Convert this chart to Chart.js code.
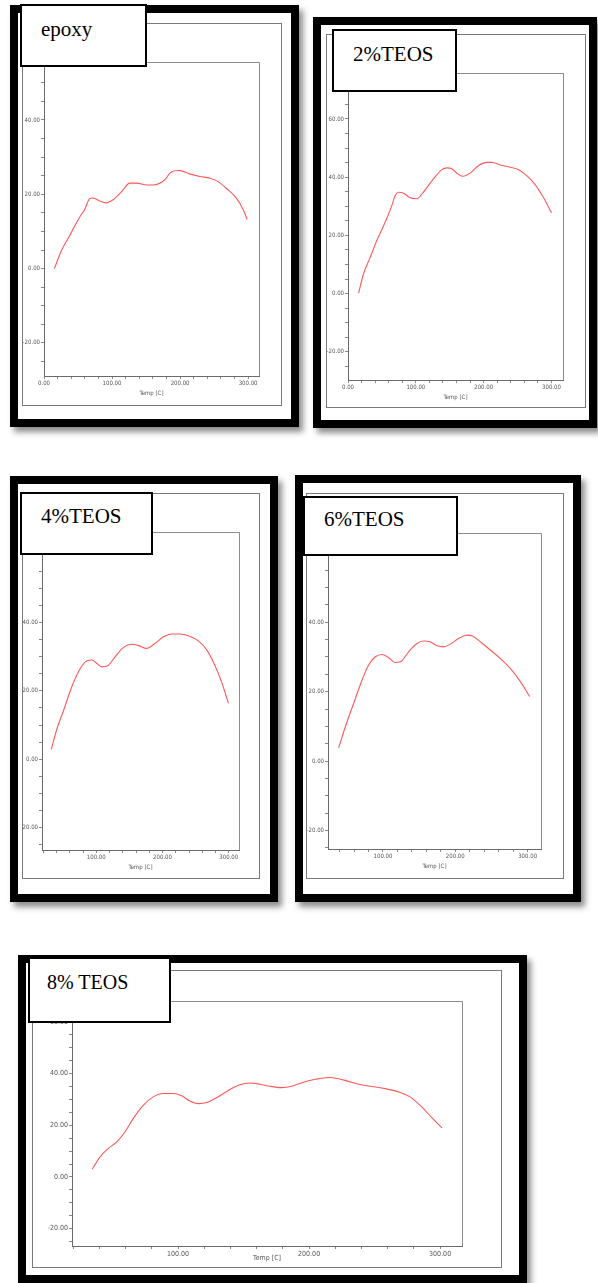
<!DOCTYPE html>
<html>
<head>
<meta charset="utf-8">
<script src="https://cdn.jsdelivr.net/npm/chart.js@4/dist/chart.umd.min.js"></script>
<style>
  html, body { margin: 0; padding: 0; background: #fff; }
  body { position: relative; width: 598px; height: 1283px; overflow: hidden; }
  .frame { position: absolute; box-sizing: border-box; border: 8px solid #000; background: #fff;
           box-shadow: 4px 5px 6px rgba(0,0,0,0.45); }
  .inner { position: absolute; box-sizing: border-box; border: 1px solid #7a7a7a; background: #fff; }
  canvas { position: absolute; }
  .tag { position: absolute; box-sizing: border-box; border: 2px solid #000; background: #fff; }
  .tag span { position: absolute; font-family: "Liberation Serif", "Times New Roman", serif;
              line-height: 1; white-space: pre; color: #000; }
</style>
</head>
<body>
<script>
// Storage modulus-type curves versus temperature for each formulation
const epoxyTemp  = [15.2, 26, 38, 53, 60, 66.6, 72, 82, 91, 102, 114, 126, 136, 151, 160.5, 170, 178.6, 185, 197, 202, 214, 229, 244, 256, 268, 283, 293, 298.6];
const epoxyValue = [0, 5, 9, 14, 16, 18.7, 19, 18.2, 17.7, 18.6, 20.7, 23, 23, 22.5, 22.5, 23, 24.1, 25.7, 26.4, 26.3, 25.5, 24.8, 24.3, 23.4, 21.6, 18.9, 15.8, 13.2];

const teos2Temp  = [15.7, 23, 33, 42.6, 57, 64.7, 69.6, 74.5, 82, 91.7, 101.5, 111, 126, 138, 145.6, 153, 160, 169, 180, 192.6, 205, 212, 224.5, 239, 251, 263, 273, 288, 300];
const teos2Value = [0.2, 6.9, 12.6, 18.3, 25.7, 30.3, 33.7, 34.8, 34.5, 32.9, 32.6, 34.8, 39.4, 42.5, 43.2, 42.9, 41.5, 40.3, 41.4, 44, 45.1, 45.1, 44.2, 43.4, 42.6, 40.6, 38.3, 33.1, 27.8];

const teos4Temp  = [32, 40.7, 50.8, 63, 76, 86, 93.5, 101, 108.5, 117, 128.6, 141, 154, 164, 176, 189, 201.5, 214, 226.6, 239, 254, 267, 279, 289, 299.5];
const teos4Value = [2.9, 9, 14.4, 21.2, 26.6, 28.8, 29, 28, 27, 27.3, 30, 32.7, 33.6, 33.2, 32.4, 33.9, 35.8, 36.6, 36.6, 36.1, 34.6, 31.9, 27.5, 22.7, 16.4];

const teos6Temp  = [38.7, 48, 59.4, 71, 80, 89, 98.6, 107.8, 117, 124, 135.5, 147, 156, 165, 174.7, 184, 193, 204.6, 216, 223, 234.6, 248.4, 262, 276, 290, 302.8];
const teos6Value = [3.8, 9.9, 16.6, 23.3, 27.6, 30, 30.7, 29.8, 28.4, 28.6, 31.5, 33.9, 34.6, 34.4, 33.2, 32.9, 33.7, 35.3, 36.3, 36.1, 34.4, 32, 29.6, 26.7, 22.9, 18.6];

const teos8Temp  = [34.4, 40.3, 46.6, 53, 59.4, 65.7, 73.4, 81, 88.7, 96.3, 102.7, 109, 115.4, 121.8, 129.4, 138.3, 146, 155, 162.5, 170, 179, 186.7, 194.4, 204.6, 214.8, 222.4, 230, 237.7, 247.9, 258, 268.3, 277, 286, 293.6, 301.4];
const teos8Value = [3, 7.7, 11, 13.5, 17.4, 22.6, 27.7, 31, 32.3, 32.3, 31.4, 29.4, 28.4, 28.8, 30.7, 33.5, 35.5, 36.4, 35.9, 35.1, 34.6, 35.1, 36.5, 37.8, 38.5, 38, 37, 35.9, 35, 34.2, 32.9, 31, 27.1, 23, 19];

// Labelled tick values on each axis
const xMajorTicks = [0, 100, 200, 300];
const yMajorTicks = [-20, 0, 20, 40, 60];
const xMinorStep = 20;
const yMinorStep = 5;

const panelNames = ['epoxy', '2%TEOS', '4%TEOS', '6%TEOS', '8% TEOS'];

// Page layout of every panel: frame, inner box, plot area, name box (pixels)
const panels = [
  { name: panelNames[0], temp: epoxyTemp, value: epoxyValue, x: [0, 316], y: [-28.9, 55.6],
    frame: [10, 5, 289, 422], inner: [22, 23, 260, 383], plot: [44, 62, 259, 376], titleBottom: 397,
    tag: [20, 4, 127, 63], textLeft: 21, baseline: 32.5, textSize: 21, tickSize: 6 },
  { name: panelNames[1], temp: teos2Temp, value: teos2Value, x: [0, 317], y: [-29.7, 75.8],
    frame: [313, 17, 284, 411], inner: [326, 34, 260, 374], plot: [348, 73, 563, 380], titleBottom: 401,
    tag: [332, 29, 125, 63], textLeft: 21, baseline: 32.5, textSize: 21, tickSize: 6 },
  { name: panelNames[2], temp: teos4Temp, value: teos4Value, x: [18, 315.5], y: [-26.5, 66.4],
    frame: [10, 476, 268, 426], inner: [22, 493, 238, 386], plot: [42, 532, 239, 850], titleBottom: 871,
    tag: [20, 492, 133, 63], textLeft: 21, baseline: 31.5, textSize: 21, tickSize: 6 },
  { name: panelNames[3], temp: teos6Temp, value: teos6Value, x: [24, 318.5], y: [-25.3, 65.7],
    frame: [295, 475, 286, 427], inner: [306, 493, 258, 386], plot: [328, 533, 541, 849], titleBottom: 870,
    tag: [303, 496, 155, 60], textLeft: 21, baseline: 30.5, textSize: 21, tickSize: 6 },
  { name: panelNames[4], temp: teos8Temp, value: teos8Value, x: [19, 316.7], y: [-26.7, 68.1],
    frame: [18, 955, 509, 328], inner: [32, 970, 470, 298], plot: [72, 1001, 462, 1246], titleBottom: 1262,
    tag: [28, 957, 143, 66], textLeft: 19, baseline: 31.5, textSize: 20, tickSize: 7 }
];

const TICK_FONT = "'Liberation Sans Narrow', 'DejaVu Sans Condensed', 'Liberation Sans', sans-serif";

function stepTicks(min, max, step) {
  const out = [];
  for (let v = Math.ceil(min / step) * step; v <= max + 1e-9; v += step) out.push({ value: Math.round(v * 1000) / 1000 });
  return out;
}

// Thin grey box along the top and right edges of the plotting area
const plotFrame = {
  id: 'plotFrame',
  beforeDatasetsDraw(chart) {
    const { ctx, chartArea: a } = chart;
    ctx.save();
    ctx.strokeStyle = '#8c8c8c';
    ctx.lineWidth = 1;
    ctx.beginPath();
    ctx.moveTo(a.left, Math.round(a.top) + 0.5);
    ctx.lineTo(Math.round(a.right) + 0.5, Math.round(a.top) + 0.5);
    ctx.lineTo(Math.round(a.right) + 0.5, a.bottom);
    ctx.stroke();
    ctx.restore();
  }
};

function box(cls, r) {
  const d = document.createElement('div');
  d.className = cls;
  d.style.left = r[0] + 'px';
  d.style.top = r[1] + 'px';
  d.style.width = r[2] + 'px';
  d.style.height = r[3] + 'px';
  document.body.appendChild(d);
  return d;
}

panels.forEach(p => {
  box('frame', p.frame);
  box('inner', p.inner);

  const cl = p.inner[0] + 1, ct = p.inner[1] + 1;
  const cw = p.inner[2] - 2, ch = p.inner[3] - 2;
  const cr = cl + cw, cb = ct + ch;
  const [pl, pt, pr, pb] = p.plot;

  const canvas = document.createElement('canvas');
  canvas.width = cw; canvas.height = ch;
  canvas.style.left = cl + 'px'; canvas.style.top = ct + 'px';
  canvas.style.width = cw + 'px'; canvas.style.height = ch + 'px';
  document.body.appendChild(canvas);

  const yWidth = pl - cl;
  const xHeight = p.titleBottom - pb;
  const tickFont = { family: TICK_FONT, size: p.tickSize };

  new Chart(canvas, {
    type: 'scatter',
    data: {
      datasets: [{
        data: p.temp.map((t, i) => ({ x: t, y: p.value[i] })),
        showLine: true,
        borderColor: 'rgba(255,70,70,0.9)',
        borderWidth: 1.1,
        pointRadius: 0,
        cubicInterpolationMode: 'monotone',
        fill: false
      }]
    },
    options: {
      responsive: false,
      animation: false,
      devicePixelRatio: 1,
      layout: { padding: { left: 0, top: pt - ct, right: cr - pr, bottom: cb - p.titleBottom } },
      plugins: { legend: { display: false }, tooltip: { enabled: false } },
      scales: {
        x: {
          type: 'linear', min: p.x[0], max: p.x[1],
          afterBuildTicks: s => { s.ticks = stepTicks(p.x[0], p.x[1], xMinorStep); },
          afterFit: s => { s.height = xHeight; },
          ticks: {
            autoSkip: false, maxRotation: 0, padding: 1, color: '#555', font: tickFont,
            callback: v => xMajorTicks.includes(v) ? v.toFixed(2) : ''
          },
          grid: { drawOnChartArea: false, drawTicks: true, tickLength: 3, color: '#888' },
          border: { display: true, color: '#6a6a6a', width: 1 },
          title: { display: true, text: 'Temp [C]', color: '#555', font: tickFont, padding: 0 }
        },
        y: {
          type: 'linear', min: p.y[0], max: p.y[1],
          afterBuildTicks: s => { s.ticks = stepTicks(p.y[0], p.y[1], yMinorStep); },
          afterFit: s => { s.width = yWidth; },
          ticks: {
            autoSkip: false, padding: 1, color: '#555', font: tickFont,
            callback: v => yMajorTicks.includes(v) ? v.toFixed(2) : ''
          },
          grid: { drawOnChartArea: false, drawTicks: true, tickLength: 3, color: '#888' },
          border: { display: true, color: '#6a6a6a', width: 1 }
        }
      }
    },
    plugins: [plotFrame]
  });

  const tag = box('tag', p.tag);
  const s = document.createElement('span');
  s.textContent = p.name;
  s.style.fontSize = p.textSize + 'px';
  // place the baseline: line-height 1 puts it about 0.8375em below the span top
  s.style.left = (p.textLeft - 2) + 'px';
  s.style.top = (p.baseline - 2 - 0.8375 * p.textSize) + 'px';
  tag.appendChild(s);
});
</script>
</body>
</html>
